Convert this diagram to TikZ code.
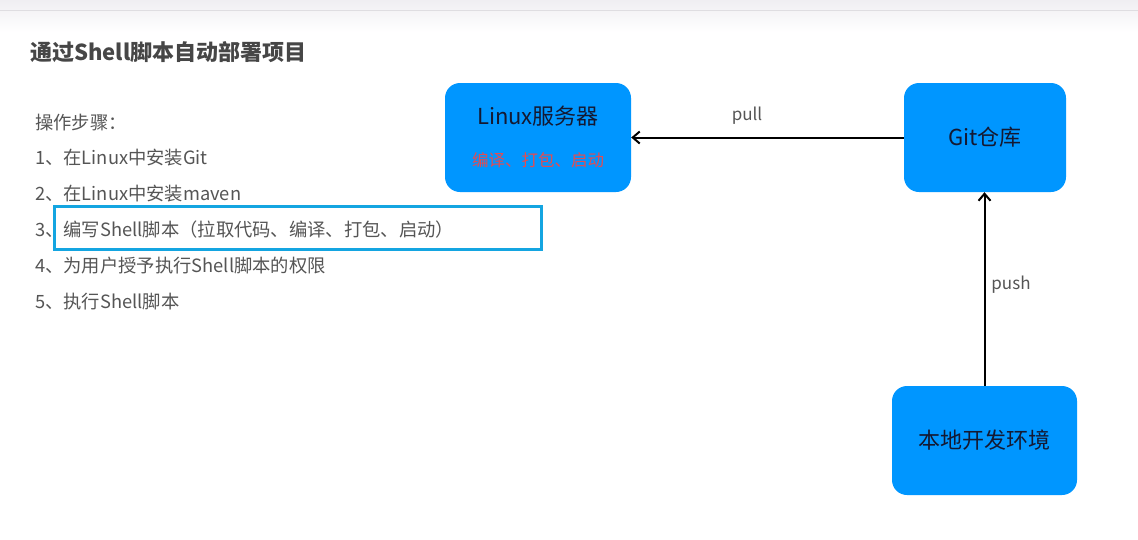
\documentclass[tikz,border=0pt]{standalone}
\usepackage{fontspec}
\setmainfont{Noto Sans CJK SC}
\usetikzlibrary{arrows.meta}
\definecolor{boxblue}{RGB}{0,150,255}
\definecolor{hlblue}{RGB}{20,165,225}
\definecolor{txtgray}{RGB}{85,85,85}
\definecolor{titlegray}{RGB}{70,70,70}
\definecolor{darktxt}{RGB}{20,25,50}
\definecolor{redtxt}{RGB}{230,75,80}
\definecolor{bandgray}{RGB}{240,238,242}
\begin{document}
\begin{tikzpicture}[x=1pt,y=-1pt,
  box/.style={fill=boxblue, rounded corners=15pt, inner sep=0pt},
  item/.style={anchor=west, text=txtgray, font=\fontsize{18.3}{20}\selectfont, inner sep=0pt},
  arr/.style={line width=2pt, -{Straight Barb[length=7pt,width=12pt]}},
  lbl/.style={text=txtgray, font=\fontsize{17}{19}\selectfont, inner sep=0pt}]
\useasboundingbox (0,0) rectangle (1138,539);
\fill[white] (0,0) rectangle (1138,539);
\shade[top color=bandgray, bottom color=white] (0,0) rectangle (1138,32);
\draw[bandgray!85!gray, line width=0.4pt] (0,10) -- (1138,10);
% title
\node[anchor=west, inner sep=0pt, text=titlegray, font=\fontsize{22}{24}\selectfont\bfseries] (title) at (30,52) {通过Shell脚本自动部署项目};
% steps
\node[item] (s0) at (35,123) {操作步骤：};
\node[item] (s1) at (35,158) {1、在Linux中安装Git};
\node[item] (s2) at (35,194) {2、在Linux中安装maven};
\node[item] (s3) at (35,230) {3、编写Shell脚本（拉取代码、编译、打包、启动）};
\node[item] (s4) at (35,266) {4、为用户授予执行Shell脚本的权限};
\node[item] (s5) at (35,302) {5、执行Shell脚本};
\node[draw=hlblue, line width=3pt, minimum width=487pt, minimum height=43pt, inner sep=0pt] (hl) at (297.5,227.5) {};
% boxes
\node[box, minimum width=186pt, minimum height=109pt] (linux) at (538,137.5) {};
\node[text=darktxt, font=\fontsize{22}{24}\selectfont, inner sep=0pt] (linuxt) at (538,116) {Linux服务器};
\node[text=redtxt, font=\fontsize{16.5}{18}\selectfont, inner sep=0pt] (linuxs) at (538,160) {编译、打包、启动};
\node[box, minimum width=162pt, minimum height=109pt, text=darktxt, font=\fontsize{22}{24}\selectfont] (git) at (985,137.5) {Git仓库};
\node[box, minimum width=185pt, minimum height=109pt, text=darktxt, font=\fontsize{22}{24}\selectfont] (local) at (984.5,440.5) {本地开发环境};
% arrows
\draw[arr] (git.west) -- (linux.east);
\draw[arr] (local.north) -- (local.north |- git.south);
\node[lbl] (pull) at (747,116) {pull};
\node[lbl] (push) at (1011,285) {push};
\end{tikzpicture}
\end{document}
